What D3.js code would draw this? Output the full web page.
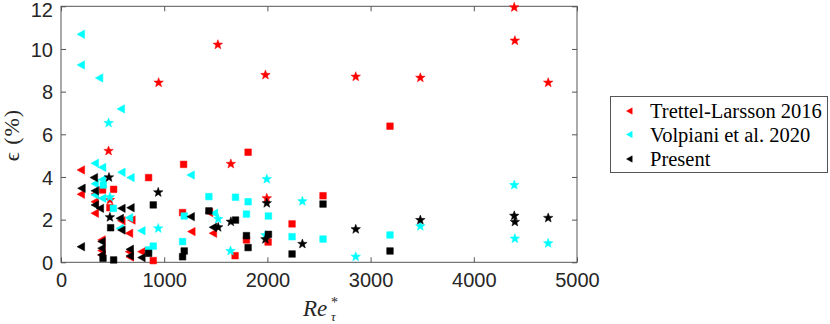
<!DOCTYPE html>
<html>
<head>
<meta charset="utf-8">
<script src="https://cdn.jsdelivr.net/npm/d3@7"></script>
<style>
  html, body { margin: 0; padding: 0; background: #fff; }
  svg { display: block; }
  .serif { font-family: "Liberation Serif", "Times New Roman", "DejaVu Serif", serif; }
</style>
</head>
<body>
<svg id="chart" width="830" height="324"></svg>
<script>
// ---------- data ----------
const seriesNames = ["Trettel-Larsson 2016", "Volpiani et al. 2020", "Present"];
const seriesColors = ["#ff0000", "#00ffff", "#000000"];

const xTicks = [0, 1000, 2000, 3000, 4000, 5000];
const yTicks = [0, 2, 4, 6, 8, 10, 12];

// Trettel-Larsson 2016 (red)
const redTriangles = [[194,4.33],[194,3.19],[329,3.2],[329,2.84],[329,2.3],[394,1.05],[394,0.55],[394,0.34],[587,1.95],[684,1.98],[661,1.36],[661,0.5],[668,0.25],[781,0.5],[1265,1.44],[1474,1.36],[1436,2.33]];
const redSquares = [[403,3.39],[510,3.42],[474,2.56],[849,3.97],[894,0.08],[1188,4.59],[1178,2.33],[1687,0.31],[1813,5.16],[1797,1.05],[2007,0.95],[2239,1.80],[2539,3.12],[3188,6.38]];
const redStars = [[461,5.22],[474,2.92],[946,8.42],[1520,10.2],[1646,4.61],[1981,8.78],[1994,3.0],[2856,8.70],[3482,8.65],[4392,11.95],[4398,10.39],[4721,8.42]];

// Volpiani et al. 2020 (cyan)
const cyanTriangles = [[194,10.69],[194,9.25],[371,8.64],[581,7.19],[329,4.64],[400,4.45],[587,4.22],[675,3.97],[1258,4.09],[329,3.68],[400,3.88],[329,3.16],[400,3.0],[661,2.09],[571,1.59],[781,1.48],[1484,2.30]];
const cyanSquares = [[410,3.62],[507,2.53],[849,0.58],[894,0.76],[1178,0.97],[1194,2.17],[1433,3.08],[1691,3.05],[1813,2.84],[1797,2.26],[2010,2.17],[2239,1.2],[2539,1.09],[3188,1.28]];
const cyanStars = [[461,6.53],[474,3.05],[942,1.59],[1523,2.03],[1643,0.53],[1994,3.9],[1981,1.27],[2339,2.86],[2856,0.26],[3482,1.69],[4392,3.62],[4398,1.11],[4721,0.89]];

// Present (black)
const blackTriangles = [[320,3.97],[200,3.47],[329,3.35],[329,2.69],[378,2.53],[587,2.53],[675,2.56],[571,2.06],[587,1.51],[194,0.73],[394,0.97],[394,0.66],[394,0.35],[668,0.61],[668,0.3],[781,0.22],[1258,2.14],[1474,1.64]];
const blackSquares = [[481,1.62],[407,0.19],[510,0.11],[849,0.42],[894,2.69],[1178,0.26],[1194,0.53],[1433,2.41],[1691,1.98],[1797,1.25],[1813,0.69],[2010,1.31],[2239,0.39],[2539,2.73],[3188,0.53]];
const blackStars = [[465,3.98],[474,2.11],[942,3.28],[1523,1.64],[1646,1.9],[1994,2.77],[1981,1.08],[2339,0.86],[2856,1.55],[3482,1.98],[4392,2.18],[4398,1.89],[4721,2.08]];

// ---------- layout ----------
const svg = d3.select("#chart");
const L = 61, R = 577, T = 6.3, B = 262.3;
const x = d3.scaleLinear().domain([0, 5000]).range([L, R]);
const y = d3.scaleLinear().domain([0, 12]).range([B, T]);
const axisColor = "#262626";
const tickFont = "'Liberation Sans', Arial, Helvetica, sans-serif";

// axes box
svg.append("rect").attr("x", L).attr("y", T).attr("width", R - L).attr("height", B - T)
  .attr("fill", "none").attr("stroke", "#555").attr("stroke-width", 1);

const xAxisB = d3.axisBottom(x).tickValues(xTicks).tickSizeInner(-5).tickSizeOuter(0).tickFormat(d3.format("d"));
const gx = svg.append("g").attr("transform", `translate(0,${B})`).call(xAxisB);
const xAxisT = d3.axisTop(x).tickValues(xTicks).tickSizeInner(-5).tickSizeOuter(0).tickFormat("");
const gxt = svg.append("g").attr("transform", `translate(0,${T})`).call(xAxisT);
const yAxisL = d3.axisLeft(y).tickValues(yTicks).tickSizeInner(-5).tickSizeOuter(0).tickFormat(d3.format("d"));
const gy = svg.append("g").attr("transform", `translate(${L},0)`).call(yAxisL);
const yAxisR = d3.axisRight(y).tickValues(yTicks).tickSizeInner(-5).tickSizeOuter(0).tickFormat("");
const gyr = svg.append("g").attr("transform", `translate(${R},0)`).call(yAxisR);

[gx, gxt, gy, gyr].forEach(g => {
  g.select(".domain").remove();
  g.selectAll(".tick line").attr("stroke", "#555");
  g.selectAll(".tick text").attr("fill", axisColor)
    .style("font-family", tickFont).style("font-size", "20px");
});
gx.selectAll(".tick text").attr("y", 11).attr("dy", "0.71em");
gy.selectAll(".tick text").attr("x", -8).attr("dy", "0.36em");
gy.selectAll(".tick").filter(d => d === 12).select("text").attr("y", 2.5);

// ---------- marker shapes ----------
function triPath(s) {
  return `M${-4*s},0L${3.6*s},${-4.2*s}L${3.6*s},${4.2*s}Z`;
}
function sqPath(s) {
  const h = 3.3 * s;
  return `M${-h},${-h}H${h}V${h}H${-h}Z`;
}
function starPath(s) {
  const ro = 5 * s, ri = 2.1 * s;
  let p = "";
  for (let i = 0; i < 10; i++) {
    const r = i % 2 === 0 ? ro : ri;
    const a = -Math.PI / 2 + i * Math.PI / 5;
    p += (i === 0 ? "M" : "L") + (r * Math.cos(a)).toFixed(2) + "," + (r * Math.sin(a)).toFixed(2);
  }
  return p + "Z";
}

const groups = [
  { color: seriesColors[0], tri: redTriangles, sq: redSquares, st: redStars },
  { color: seriesColors[1], tri: cyanTriangles, sq: cyanSquares, st: cyanStars },
  { color: seriesColors[2], tri: blackTriangles, sq: blackSquares, st: blackStars },
];

const gMarks = svg.append("g");
groups.forEach(gr => {
  const g = gMarks.append("g");
  const draw = (data, path) => {
    g.selectAll(null).data(data).enter().append("path")
      .attr("d", path)
      .attr("transform", d => `translate(${x(d[0])},${y(d[1])})`)
      .attr("fill", gr.color)
      .attr("stroke", gr.color).attr("stroke-width", 0.5);
  };
  draw(gr.sq, sqPath(1));
  draw(gr.tri, triPath(1));
  draw(gr.st, starPath(1));
});

// ---------- axis labels ----------
svg.append("text").attr("class", "serif").attr("x", 303).attr("y", 316)
  .attr("fill", axisColor).style("font-size", "23px").style("font-style", "italic").text("Re");
svg.append("text").attr("class", "serif").attr("x", 331).attr("y", 307)
  .attr("fill", axisColor).style("font-size", "14px").text("*");
svg.append("text").attr("class", "serif").attr("x", 331).attr("y", 321)
  .attr("fill", axisColor).style("font-size", "13px").style("font-style", "italic").text("τ");

svg.append("text").attr("class", "serif").attr("transform", "translate(19,135) rotate(-90)")
  .attr("text-anchor", "middle").attr("fill", axisColor)
  .style("font-size", "22px").style("letter-spacing", "1px")
  .text("ϵ (%)");

// ---------- legend ----------
const lg = svg.append("g");
lg.append("rect").attr("x", 610.5).attr("y", 96.5).attr("width", 217).attr("height", 76)
  .attr("fill", "#fff").attr("stroke", "#555").attr("stroke-width", 1);
const legendY = [111, 134.5, 159];
seriesNames.forEach((name, i) => {
  lg.append("path").attr("d", triPath(0.75))
    .attr("transform", `translate(629.5,${legendY[i]})`)
    .attr("fill", seriesColors[i]).attr("stroke", seriesColors[i]).attr("stroke-width", 0.5);
  lg.append("text").attr("class", "serif").attr("x", 650).attr("y", legendY[i]).attr("dy", "0.35em")
    .attr("fill", "#000").style("font-size", "20.5px")
    .text(name);
});
</script>
</body>
</html>
